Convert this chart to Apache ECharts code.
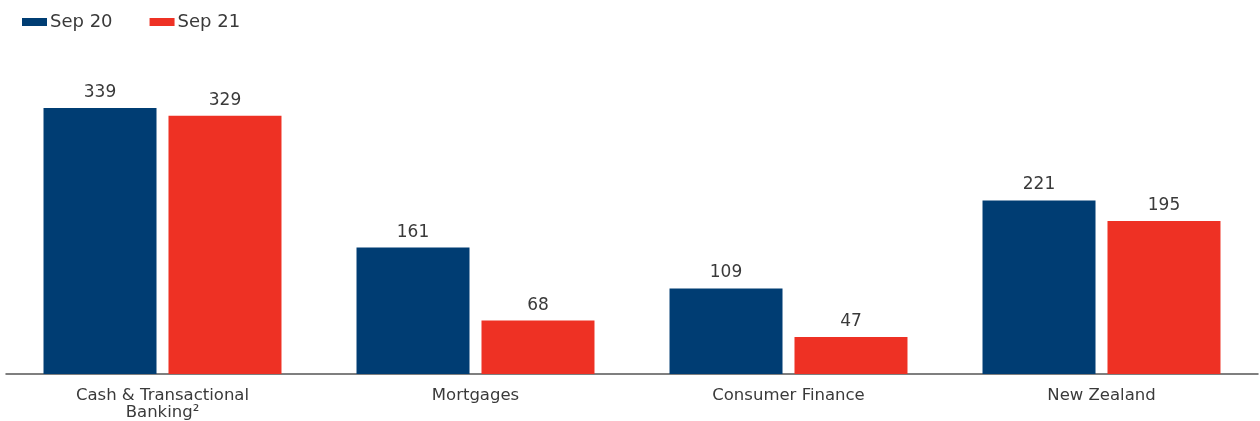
<!DOCTYPE html>
<html>
<head>
<meta charset="utf-8">
<script src="https://cdn.jsdelivr.net/npm/echarts@6/dist/echarts.min.js"></script>
<style>
  html, body { margin: 0; padding: 0; background: #fff; }
  #chart { width: 1260px; height: 421px; }
</style>
</head>
<body>
<div id="chart"></div>
<script>
const categories = ["Cash & Transactional\nBanking²", "Mortgages", "Consumer Finance", "New Zealand"];
const sep20 = [339, 161, 109, 221];
const sep21 = [329, 68, 47, 195];

const chart = echarts.init(document.getElementById("chart"), null, { renderer: "canvas" });
const font = "'DejaVu Sans', sans-serif";

chart.setOption({
  animation: false,
  textStyle: { fontFamily: font },
  legend: {
    left: 17,
    top: 8,
    itemWidth: 25,
    itemHeight: 8,
    itemGap: 37,
    icon: "rect",
    textStyle: { fontSize: 18, color: "#3a3a3a", fontFamily: font, padding: [0, 0, 0, -2] },
    data: ["Sep 20", "Sep 21"]
  },
  grid: { left: 6, right: 2, top: 60, bottom: 47 },
  xAxis: {
    type: "category",
    data: categories,
    axisLine: { lineStyle: { color: "#555", width: 1.5 } },
    axisTick: { show: false },
    axisLabel: { color: "#3a3a3a", fontSize: 16.5, lineHeight: 17, margin: 13, fontFamily: font }
  },
  yAxis: {
    type: "value",
    min: 0,
    max: 400,
    show: false,
    splitLine: { show: false }
  },
  series: [
    {
      name: "Sep 20",
      type: "bar",
      data: sep20,
      barWidth: 113,
      barGap: "10.6%",
      itemStyle: { color: "#003d73" },
      label: { show: true, position: "top", distance: 7, color: "#3a3a3a", fontSize: 17, fontFamily: font }
    },
    {
      name: "Sep 21",
      type: "bar",
      data: sep21,
      barWidth: 113,
      itemStyle: { color: "#ee3124" },
      label: { show: true, position: "top", distance: 7, color: "#3a3a3a", fontSize: 17, fontFamily: font }
    }
  ]
});
</script>
</body>
</html>
